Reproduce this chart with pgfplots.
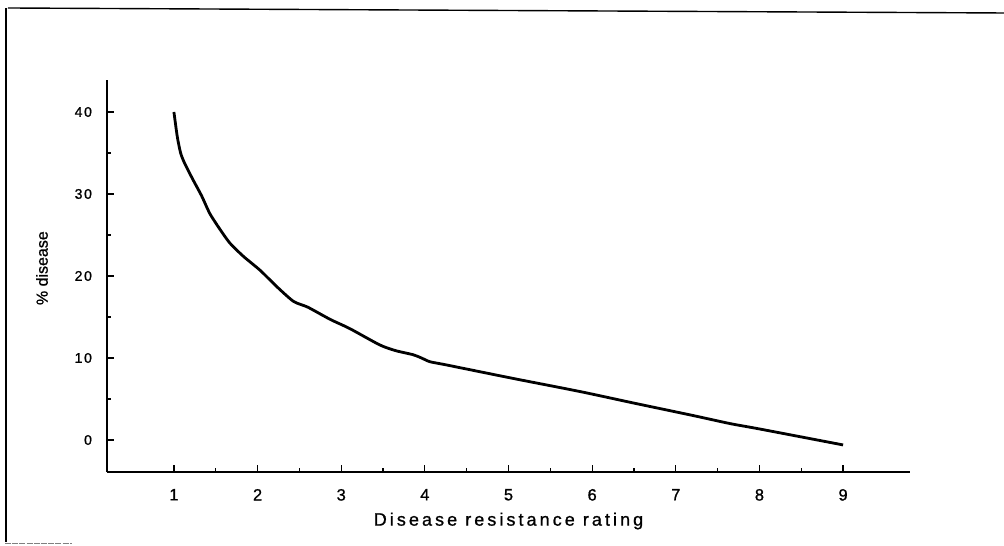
\documentclass[border=0pt]{standalone}
\usepackage{fontspec}
\setmainfont{Liberation Sans}
\newfontfamily\spaced[LetterSpace=12, FakeBold=1]{Liberation Sans}
\newfontfamily\widespaced[LetterSpace=17, FakeBold=1]{Liberation Sans}
\newfontfamily\plainbold[FakeBold=1]{Liberation Sans}
\usepackage{pgfplots}
\pgfplotsset{compat=1.18}

\begin{document}
\begin{tikzpicture}
% page extent and the frame round the figure
\path[use as bounding box] (-53.5pt,-36.5pt) rectangle (448.5pt,236pt);
\draw[line width=0.7pt] (-49.5pt,232pt) -- (448.5pt,229.5pt);
\draw[line width=0.7pt] (-50.5pt,232pt) -- (-50.5pt,-35pt);
\draw[line width=0.5pt, gray, dash pattern=on 3pt off 0.6pt] (-51pt,-35.5pt) -- (-17.5pt,-35.5pt);

\begin{axis}[
  at={(0,0)}, anchor=south west,
  scale only axis,
  width=401.5pt, height=196pt,
  xmin=0.2, xmax=9.8,
  ymin=-3.9, ymax=43.9,
  axis x line=bottom, axis y line=left,
  axis line style={-, line width=0.75pt},
  xtick={1,2,...,9},
  ytick={0,10,20,30,40},
  minor x tick num=1,
  minor y tick num=1,
  tick align=inside,
  major tick length=3.5pt,
  minor tick length=1.8pt,
  tick style={line width=0.6pt, black},
  /pgf/number format/assume math mode=true,
  xticklabel style={font=\spaced\fontsize{8.2}{10}\selectfont, anchor=north, yshift=-5pt},
  yticklabel style={font=\spaced\fontsize{7}{8}\selectfont, anchor=east, xshift=-4pt},
  xlabel={Disease resistance rating},
  ylabel={\% disease},
  xlabel style={font=\widespaced\fontsize{9}{11}\selectfont, at={(axis description cs:0.5,-0.125)}, anchor=center},
  ylabel style={font=\plainbold\fontsize{8}{9.6}\selectfont, at={(axis description cs:-0.081,0.52)}, anchor=center},
  clip=false,
]
\addplot[black, line width=1.4pt, smooth, tension=0.4] coordinates {
  (1.00,40.0) (1.04,37.0) (1.08,35.0) (1.13,33.7) (1.23,31.7)
  (1.33,29.8) (1.43,27.6) (1.55,25.7) (1.67,24.0) (1.83,22.4)
  (2.03,20.7) (2.23,18.7) (2.43,16.9) (2.60,16.2) (2.87,14.7)
  (3.10,13.6) (3.46,11.6) (3.65,10.9) (3.86,10.4) (3.96,10.0)
  (4.06,9.55) (4.26,9.15) (5.06,7.5) (5.86,5.9) (6.50,4.5)
  (7.20,3.0) (7.65,2.0) (8.00,1.35) (9.00,-0.6)
};
\end{axis}
\end{tikzpicture}
\end{document}
